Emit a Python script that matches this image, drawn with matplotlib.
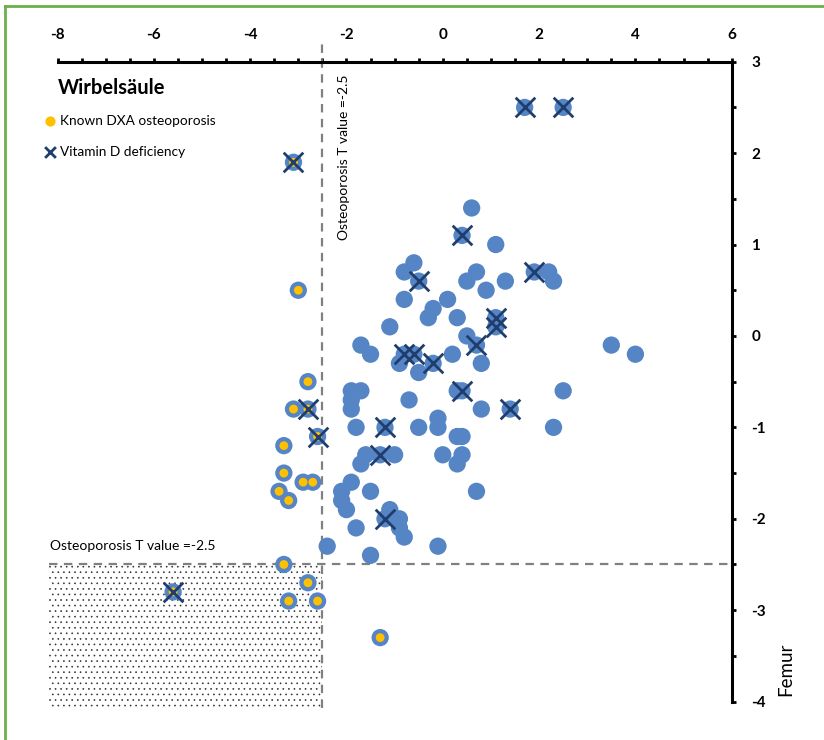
import numpy as np
import matplotlib
matplotlib.use("Agg")
import matplotlib.pyplot as plt
from matplotlib.patches import Rectangle
from matplotlib.lines import Line2D
from matplotlib.ticker import MultipleLocator

plt.rcParams['font.family'] = ['Lato', 'DejaVu Sans']
plt.rcParams['axes.unicode_minus'] = False
plt.rcParams['hatch.linewidth'] = 0.45

# T-Werte: x = Wirbelsäule, y = Femur
# nur Punkte
plain_x = [0.6, 1.1, -0.6, -0.8, 0.7, 0.5, 0.9, 1.3, 2.2, 2.3, -0.8, 0.1, -0.2, -0.3, 0.3,
           -1.1, 0.5, 0.8, -1.7, -1.5, -0.9, -0.5, 0.2, 3.5, 4.0, -1.9, -1.7, -1.9, -1.9, -0.7,
           0.3, 0.8, 2.5, 2.3, -1.8, -0.5, -0.1, -0.1, 0.3, 0.4, -1.6, -1.0, -1.7, 0.0, 0.4,
           0.3, -1.9, -2.1, -2.1, -2.0, -1.5, 0.7, -1.1, -0.9, -0.9, -0.8, -1.8, -2.4, -1.5, -0.1]
plain_y = [1.4, 1.0, 0.8, 0.7, 0.7, 0.6, 0.5, 0.6, 0.7, 0.6, 0.4, 0.4, 0.3, 0.2, 0.2,
           0.1, 0.0, -0.3, -0.1, -0.2, -0.3, -0.4, -0.2, -0.1, -0.2, -0.6, -0.6, -0.7, -0.8, -0.7,
           -0.6, -0.8, -0.6, -1.0, -1.0, -1.0, -0.9, -1.0, -1.1, -1.1, -1.3, -1.3, -1.4, -1.3, -1.3,
           -1.4, -1.6, -1.7, -1.8, -1.9, -1.7, -1.7, -1.9, -2.0, -2.1, -2.2, -2.1, -2.3, -2.4, -2.3]

# Vitamin D Mangel
vitd_x = [1.7, 2.5, 0.4, -0.5, 1.9, 1.1, 1.1, 0.7, -0.8, -0.6, -0.2, 0.4, 1.4, -1.2, -1.3, -1.2]
vitd_y = [2.5, 2.5, 1.1, 0.6, 0.7, 0.2, 0.1, -0.1, -0.2, -0.2, -0.3, -0.6, -0.8, -1.0, -1.3, -2.0]

# bekannte DXA Osteoporose
dxa_x = [-3.0, -2.8, -3.1, -3.3, -3.3, -2.9, -2.7, -3.4, -3.2, -3.3, -2.8, -3.2, -2.6, -1.3]
dxa_y = [0.5, -0.5, -0.8, -1.2, -1.5, -1.6, -1.6, -1.7, -1.8, -2.5, -2.7, -2.9, -2.9, -3.3]

# beides
both_x = [-3.1, -2.8, -2.6, -5.6]
both_y = [1.9, -0.8, -1.1, -2.8]

threshold = -2.5

blue = '#5585c5'
dark = '#1f3e6e'
yellow = '#ffc000'
grey = '#808080'

fig = plt.figure(figsize=(8.24, 7.4), dpi=100)
ax = fig.add_axes([0.0698, 0.0519, 0.8182, 0.8647])
ax.set_xlim(-8, 6)
ax.set_ylim(-4, 3)

# schraffierter Bereich (beide T-Werte unter -2.5)
ax.add_patch(Rectangle((-8.18, -4.07), threshold + 8.18, threshold + 4.07, facecolor='none',
                       edgecolor='#333333', lw=0, hatch='...', clip_on=False, zorder=1))

# Schwellenlinien
dash = (0, (3.8, 2.9))
ax.plot([threshold, threshold], [-4.07, 3.26], ls=dash, color=grey, lw=1.6, clip_on=False, zorder=2)
ax.plot([-8.18, 6], [threshold, threshold], ls=dash, color=grey, lw=1.6, clip_on=False, zorder=2)

all_x = plain_x + vitd_x + dxa_x + both_x
all_y = plain_y + vitd_y + dxa_y + both_y
ax.scatter(all_x, all_y, s=155, color=blue, edgecolors='none', zorder=3, clip_on=False)
ax.scatter(dxa_x + both_x, dxa_y + both_y, s=40, color=yellow, edgecolors='none', zorder=4)
ax.scatter(vitd_x + both_x, vitd_y + both_y, s=200, marker='x', color=dark, linewidths=2, zorder=5,
           clip_on=False)

# Achsen
for side in ['left', 'bottom']:
    ax.spines[side].set_visible(False)
for side in ['top', 'right']:
    ax.spines[side].set_linewidth(2.2)
ax.xaxis.tick_top()
ax.yaxis.tick_right()
ax.set_xticks(range(-8, 7, 2))
ax.set_xticklabels([str(v) for v in range(-8, 7, 2)], fontweight='bold')
ax.set_yticks(range(-4, 4))
ax.set_yticklabels([str(v) for v in range(-4, 4)], fontweight='bold')
ax.xaxis.set_minor_locator(MultipleLocator(0.5))
ax.yaxis.set_minor_locator(MultipleLocator(0.5))
ax.tick_params(axis='x', which='both', direction='out', length=3, width=2,
               top=True, bottom=False, pad=11, labelsize=11)
ax.tick_params(axis='y', which='both', direction='out', length=3, width=2,
               right=True, left=False, pad=11, labelsize=11)

# Beschriftungen
ax.text(-8.0, 2.71, 'Wirbelsäule', fontsize=14.5, fontweight='bold', va='center', ha='left')
ax.scatter([-8.16], [2.35], s=40, color=yellow, clip_on=False)
ax.text(-7.95, 2.35, 'Known DXA osteoporosis', fontsize=9.8, va='center', ha='left')
ax.scatter([-8.16], [2.01], s=60, marker='x', color=dark, linewidths=2, clip_on=False)
ax.text(-7.95, 2.01, 'Vitamin D deficiency', fontsize=9.8, va='center', ha='left')

ax.text(-2.06, 2.86, 'Osteoporosis T value =-2.5', fontsize=10, rotation=90, va='top', ha='center')
ax.text(-8.16, -2.3, 'Osteoporosis T value =-2.5', fontsize=10, va='center', ha='left')
ax.text(7.13, -3.65, 'Femur', fontsize=13.5, rotation=90, va='center', ha='center')

# grüner Rahmen
green = '#6ab04c'
fig.add_artist(Line2D([0.0064, 1.0], [0.9925, 0.9925], transform=fig.transFigure, color=green, lw=2))
fig.add_artist(Line2D([0.0064, 0.0064], [0.0, 0.9925], transform=fig.transFigure, color=green, lw=2))

fig.savefig('out.png', dpi=100)
